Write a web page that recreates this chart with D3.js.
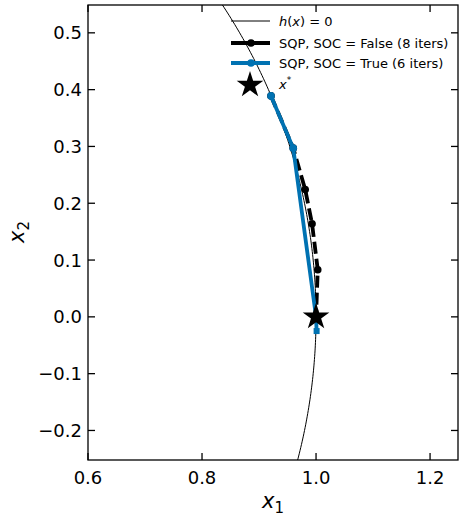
<!DOCTYPE html><html><head><script src="https://cdn.jsdelivr.net/npm/d3@7"></script>
<style>body{margin:0;background:#fff}text{font-family:"DejaVu Sans",sans-serif}</style></head><body>
<svg id="c" width="462" height="518"></svg>
<script>
const xTicks=[0.6,0.8,1.0,1.2];
const yTicks=[-0.2,-0.1,0.0,0.1,0.2,0.3,0.4,0.5];
const socFalseX=[0.921,0.960,0.981,0.993,1.003,1.000,1.000];
const socFalseY=[0.389,0.297,0.224,0.164,0.083,0.001,0.000];
const socTrueX=[0.921,0.960,1.000,1.001];
const socTrueY=[0.389,0.297,0.000,-0.025];
const optimum=[1.0,0.0];
const legendLabels=["SQP, SOC = False (8 iters)","SQP, SOC = True (6 iters)"];

const svg=d3.select("#c");
const L=88,R=458,T=5,B=460;
const x=d3.scaleLinear().domain([0.6,1.249]).range([L,R]);
const y=d3.scaleLinear().domain([-0.252,0.549]).range([B,T]);
const g=svg.append("g");
g.append("defs").append("clipPath").attr("id","cp").append("rect").attr("x",L).attr("y",T).attr("width",R-L).attr("height",B-T);
const p=g.append("g").attr("clip-path","url(#cp)");
const circ=d3.range(-0.3,0.61,0.005).map(v=>[Math.sqrt(1-v*v),v]);
const line=d3.line().x(d=>x(d[0])).y(d=>y(d[1]));
p.append("path").attr("d",line(circ)).attr("fill","none").attr("stroke","#000").attr("stroke-width",1);
const fpts=socFalseX.map((v,i)=>[v,socFalseY[i]]);
const tpts=socTrueX.map((v,i)=>[v,socTrueY[i]]);
p.append("path").attr("d",line(fpts)).attr("fill","none").attr("stroke","#000").attr("stroke-width",3.8).attr("stroke-dasharray","12,5");
p.selectAll(".fm").data(fpts).enter().append("circle").attr("cx",d=>x(d[0])).attr("cy",d=>y(d[1])).attr("r",3.8).attr("fill","#000");
p.append("path").attr("d",line(tpts)).attr("fill","none").attr("stroke","#0072b2").attr("stroke-width",3.8);
p.selectAll(".tm").data(tpts.slice(0,2)).enter().append("circle").attr("cx",d=>x(d[0])).attr("cy",d=>y(d[1])).attr("r",3.8).attr("fill","#0072b2");
p.selectAll(".ts").data(tpts.slice(2)).enter().append("rect").attr("x",d=>x(d[0])-3).attr("y",d=>y(d[1])-3).attr("width",6).attr("height",6).attr("fill","#0072b2");
const star=d3.symbol().type(d3.symbolStar).size(220);
p.append("path").attr("d",star()).attr("transform",`translate(${x(optimum[0])},${y(optimum[1])})`).attr("fill","#000");
g.append("rect").attr("x",L).attr("y",T).attr("width",R-L).attr("height",B-T).attr("fill","none").attr("stroke","#000").attr("stroke-width",1.3);
xTicks.forEach(t=>{const X=x(t);
 g.append("line").attr("x1",X).attr("x2",X).attr("y1",B).attr("y2",B-7).attr("stroke","#000").attr("stroke-width",1.3);
 g.append("line").attr("x1",X).attr("x2",X).attr("y1",T).attr("y2",T+7).attr("stroke","#000").attr("stroke-width",1.3);
 g.append("text").attr("x",X).attr("y",B+24).attr("text-anchor","middle").attr("font-size",18).text(t.toFixed(1));});
yTicks.forEach(t=>{const Y=y(t);
 g.append("line").attr("x1",L).attr("x2",L+7).attr("y1",Y).attr("y2",Y).attr("stroke","#000").attr("stroke-width",1.3);
 g.append("line").attr("x1",R).attr("x2",R-7).attr("y1",Y).attr("y2",Y).attr("stroke","#000").attr("stroke-width",1.3);
 g.append("text").attr("x",L-6).attr("y",Y+6.5).attr("text-anchor","end").attr("font-size",18).text(t.toFixed(1).replace("-","\u2212"));});
const xl=g.append("text").attr("x",273).attr("y",508).attr("text-anchor","middle").attr("font-size",21).attr("font-style","italic");
xl.append("tspan").text("x");xl.append("tspan").attr("font-size",15).attr("dy",5).attr("font-style","normal").text("1");
const yl=g.append("text").attr("transform","translate(24,232) rotate(-90)").attr("text-anchor","middle").attr("font-size",21).attr("font-style","italic");
yl.append("tspan").text("x");yl.append("tspan").attr("font-size",15).attr("dy",5).attr("font-style","normal").text("2");
const lg=g.append("g");
const lx1=231,lx2=270,tx=279;
lg.append("line").attr("x1",lx1).attr("x2",lx2).attr("y1",21).attr("y2",21).attr("stroke","#000").attr("stroke-width",1);
const ht=lg.append("text").attr("x",tx).attr("y",26).attr("font-size",13);
ht.append("tspan").attr("font-style","italic").text("h");ht.append("tspan").text("(");ht.append("tspan").attr("font-style","italic").text("x");ht.append("tspan").text(") = 0");
[["#000",43],["#0072b2",63]].forEach((c,i)=>{
 lg.append("line").attr("x1",lx1).attr("x2",lx2).attr("y1",c[1]).attr("y2",c[1]).attr("stroke",c[0]).attr("stroke-width",3.8);
 lg.append("circle").attr("cx",251).attr("cy",c[1]).attr("r",3.8).attr("fill",c[0]);
 lg.append("text").attr("x",tx).attr("y",c[1]+5).attr("font-size",13).text(legendLabels[i]);});
lg.append("path").attr("d",star()).attr("transform","translate(250,85)").attr("fill","#000");
const xs=lg.append("text").attr("x",tx).attr("y",89).attr("font-size",13);
xs.append("tspan").attr("font-style","italic").text("x");xs.append("tspan").attr("font-size",9).attr("dy",-6).text("*");
</script></body></html>
